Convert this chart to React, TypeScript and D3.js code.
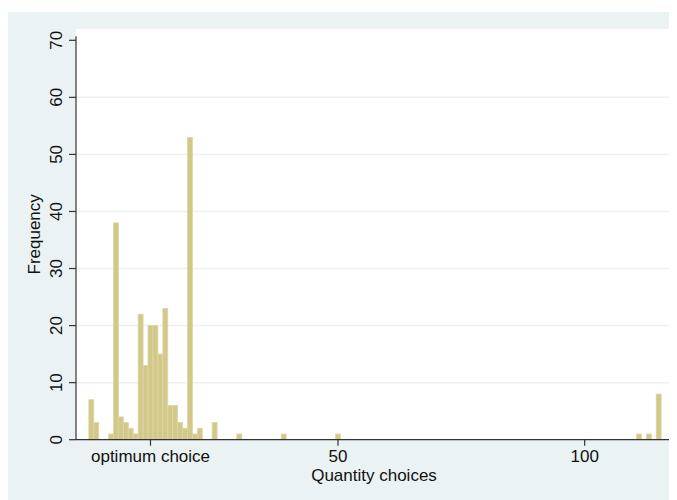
import React from "react";
import * as d3 from "d3";

const quantities = [0, 1, 4, 5, 6, 7, 8, 9, 10, 11, 12, 13, 14, 15, 16, 17, 18, 19, 20, 21, 22, 25, 30, 39, 50, 111, 113, 115];
const frequencies = [7, 3, 1, 38, 4, 3, 2, 1, 22, 13, 20, 20, 15, 23, 6, 6, 3, 2, 53, 1, 2, 3, 1, 1, 1, 1, 1, 8];
const xTickValues = [12, 50, 100];
const xTickLabels = ["optimum choice", "50", "100"];
const yTickValues = [0, 10, 20, 30, 40, 50, 60, 70];
const gridValues = [10, 20, 30, 40, 50, 60];

const W = 669;
const H = 492;
const FONT = "'Liberation Sans', Arial, Helvetica, sans-serif";

export default function App() {
  const plotLeft = 68;
  const plotRight = 664;
  const plotTop = 21;
  const x = d3.scaleLinear().domain([-3.1, 117.7]).range([plotLeft, plotRight]);
  const y = d3.scaleLinear().domain([0, 70]).range([431.7, 32.3]);
  const base = y(0);

  return (
    <svg width={W} height={H} style={{ display: "block" }}>
      <rect x={0} y={4} width={W} height={H - 4} fill="#eaf2f3" />
      <rect x={plotLeft} y={plotTop} width={plotRight - plotLeft} height={base - plotTop} fill="#ffffff" />
      {gridValues.map((g) => (
        <line key={g} x1={plotLeft} x2={plotRight} y1={y(g)} y2={y(g)} stroke="#eaf2f3" strokeWidth={1.5} />
      ))}
      {quantities.map((q, i) => (
        <rect
          key={q}
          x={x(q - 0.5)}
          y={y(frequencies[i])}
          width={x(q + 0.5) - x(q - 0.5)}
          height={base - y(frequencies[i])}
          fill="#d2c888"
          stroke="#ddd6a6"
          strokeWidth={0.8}
        />
      ))}
      <line x1={plotLeft} x2={plotLeft} y1={y(70) - 4} y2={base} stroke="#333" strokeWidth={1.2} />
      <line x1={plotLeft} x2={plotRight} y1={base} y2={base} stroke="#333" strokeWidth={1.2} />
      {yTickValues.map((t) => (
        <g key={t}>
          <line x1={plotLeft - 7} x2={plotLeft} y1={y(t)} y2={y(t)} stroke="#333" strokeWidth={1.2} />
          <text
            transform={`translate(54,${y(t)}) rotate(-90)`}
            textAnchor="middle"
            fontFamily={FONT}
            fontSize={17}
            fill="#111"
          >
            {t}
          </text>
        </g>
      ))}
      {xTickValues.map((t, i) => (
        <g key={t}>
          <line x1={x(t)} x2={x(t)} y1={base} y2={base + 6} stroke="#333" strokeWidth={1.2} />
          <text x={x(t)} y={454} textAnchor="middle" fontFamily={FONT} fontSize={17} fill="#111">
            {xTickLabels[i]}
          </text>
        </g>
      ))}
      <text
        x={(plotLeft + plotRight) / 2}
        y={472.7}
        textAnchor="middle"
        fontFamily={FONT}
        fontSize={17}
        fill="#111"
      >
        Quantity choices
      </text>
      <text
        transform={`translate(32,${(plotTop + base) / 2}) rotate(-90)`}
        textAnchor="middle"
        fontFamily={FONT}
        fontSize={17}
        fill="#111"
      >
        Frequency
      </text>
    </svg>
  );
}
